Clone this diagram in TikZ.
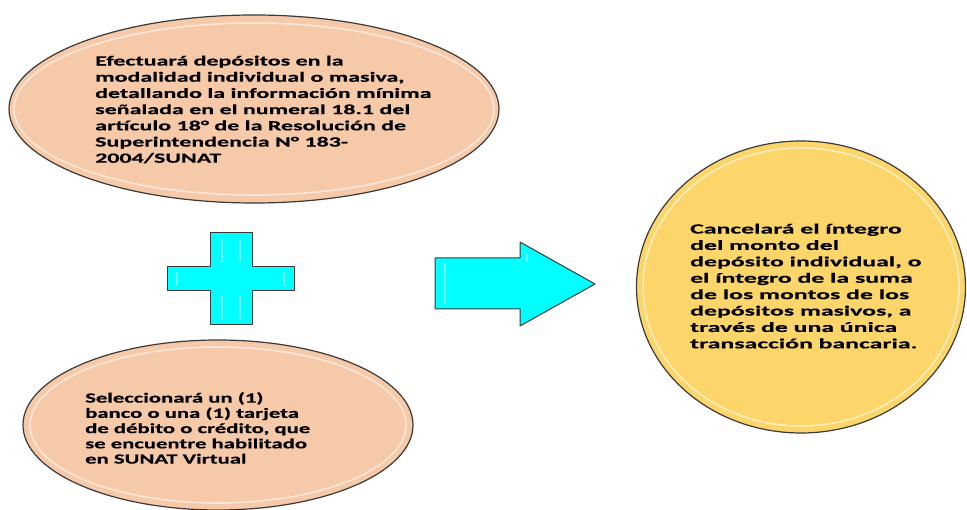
\documentclass[tikz,border=0pt]{standalone}
\usepackage{fontspec}
\setmainfont{Carlito}
\newfontfamily\topfont{Carlito}[FakeStretch=1.71, FakeBold=0.4]
\newfontfamily\botfont{Carlito}[FakeStretch=1.62, FakeBold=0.4]
\newfontfamily\circfont{Carlito}[FakeStretch=1.84, FakeBold=0.4]
\usetikzlibrary{shapes.geometric}
\definecolor{peach}{HTML}{F6C9A9}
\definecolor{gold}{HTML}{FCD66A}
\definecolor{edgec}{HTML}{3A3A3A}
\definecolor{aqua}{HTML}{00FFFF}
\begin{document}
\begin{tikzpicture}[x=1pt,y=-1pt,
  blob/.style={ellipse, draw=edgec, line width=1.2pt, inner sep=0pt},
  txt/.style={anchor=north west, inner sep=0pt, align=left, text=black},
  shine/.style={white, opacity=.55, line width=1.6pt},
  solid shape/.style={fill=aqua, draw=edgec, line width=1pt, line join=round}]
\useasboundingbox[fill=white] (0,0) rectangle (967,510);

% top ellipse
\node[blob, fill=peach, minimum width=490pt, minimum height=188pt] (top) at (254,109) {};
\draw[shine] (254,109) ellipse [x radius=240, y radius=86];
\node[txt, font=\topfont\bfseries\fontsize{14}{16.2}\selectfont] (toptext) at (95,55.5) {Efectuará depósitos en la\\modalidad individual o masiva,\\detallando la información mínima\\señalada en el numeral 18.1 del\\artículo 18° de la Resolución de\\Superintendencia N° 183-\\2004/SUNAT};

% bottom ellipse
\node[blob, fill=peach, minimum width=390pt, minimum height=170pt] (bot) at (218,425) {};
\draw[shine] (218,425) ellipse [x radius=188, y radius=78];
\node[txt, font=\botfont\bfseries\fontsize{14}{15.25}\selectfont] (bottext) at (85,392) {Seleccionará un (1)\\banco o una (1) tarjeta\\de débito o crédito, que\\se encuentre habilitado\\en SUNAT Virtual};

% circle
\node[blob, fill=gold, minimum width=329pt, minimum height=292pt] (circ) at (801,287) {};
\draw[shine] (801,287) ellipse [x radius=158, y radius=139];
\node[txt, font=\circfont\bfseries\fontsize{14}{16.4}\selectfont] (circtext) at (690,223.5) {Cancelará el íntegro\\del monto del\\depósito individual, o\\el íntegro de la suma\\de los montos de los\\depósitos masivos, a\\través de una única\\transacción bancaria.};

% plus sign
\draw[solid shape] (210,233) -- (252,233) -- (252,267) -- (294,267) -- (294,291) -- (252,291)
  -- (252,325) -- (210,325) -- (210,291) -- (167,291) -- (167,267) -- (210,267) -- cycle;
\draw[shine, opacity=.45, line width=1.2pt] (222,239) -- (222,262) (222,296) -- (222,319)
  (240,239) -- (240,262) (240,296) -- (240,319) (177,272) -- (177,286) (284,272) -- (284,286);

% arrow
\draw[solid shape] (435,258) -- (520,258) -- (520,242) -- (595,284) -- (520,326) -- (520,309)
  -- (435,309) -- cycle;
\draw[shine, opacity=.45, line width=1.2pt] (445,263) -- (445,304) (527,254) -- (527,262);
\end{tikzpicture}
\end{document}
